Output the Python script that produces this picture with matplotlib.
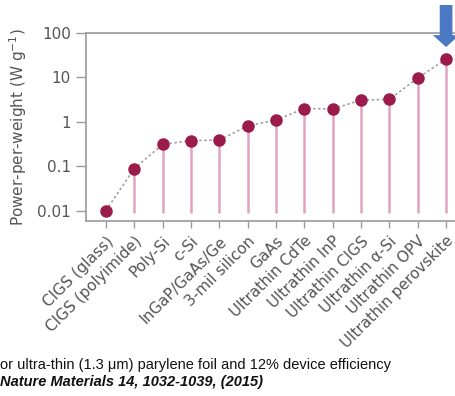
import matplotlib.pyplot as plt
import numpy as np

plt.rcParams['font.family'] = ['DejaVu Sans']
plt.rcParams['mathtext.fontset'] = 'dejavusans'

# Power-per-weight of thin-film / flexible solar cell technologies
technologies = ['CIGS (glass)', 'CIGS (polyimide)', 'Poly-Si', 'c-Si',
                'InGaP/GaAs/Ge', '3-mil silicon', 'GaAs', 'Ultrathin CdTe',
                'Ultrathin InP', 'Ultrathin CIGS', 'Ultrathin \u03b1-Si',
                'Ultrathin OPV', 'Ultrathin perovskite']
power_per_weight = [0.01, 0.089, 0.31, 0.38, 0.39, 0.81, 1.1, 2.0,
                    1.95, 3.1, 3.2, 9.7, 26]
yticks = [0.01, 0.1, 1, 10, 100]
ytick_labels = ['0.01', '0.1', '1', '10', '100']
stem_base = 0.009

caption = 'or ultra-thin (1.3 \u03bcm) parylene foil and 12% device efficiency'
source = 'Nature Materials 14, 1032-1039, (2015)'

marker_color = '#9b1b4b'
stem_color = '#e3a3c0'
axis_color = '#9a9a9a'
text_color = '#555555'

fig = plt.figure(figsize=(4.56, 3.96), dpi=100)
ax = fig.add_axes([0.1886, 0.442, 0.8114, 0.4747])

x = np.arange(len(technologies))
ax.vlines(x, stem_base, power_per_weight, color=stem_color, lw=1.8, zorder=1)
ax.plot(x, power_per_weight, ls=(0, (1.5, 1.5)), color='#a0a0a0', lw=1.2, zorder=2)
ax.plot(x, power_per_weight, 'o', color=marker_color, ms=8, zorder=3)

ax.set_yscale('log')
ax.set_ylim(0.0059, 100)
ax.set_xlim(-0.7, 12.35)
ax.set_yticks(yticks)
ax.set_yticklabels(ytick_labels)
ax.minorticks_off()
ax.set_xticks(x)
ax.set_xticklabels(technologies, rotation=45, ha='right', va='top',
                   rotation_mode='anchor')

ax.spines['right'].set_visible(False)
for side in ['left', 'bottom', 'top']:
    ax.spines[side].set_color(axis_color)
    ax.spines[side].set_linewidth(1.2)

ax.tick_params(axis='y', length=7, width=1, color=axis_color,
               labelsize=11, labelcolor=text_color, pad=4)
ax.tick_params(axis='x', length=5, width=1, color=axis_color,
               labelsize=11, labelcolor=text_color, pad=4)

ax.set_ylabel('Power-per-weight (W g$^{-1}$)', fontsize=11,
              color=text_color, labelpad=6)

# highlight arrow over the perovskite result
ax.annotate('', xy=(x[-1], power_per_weight[-1]), xytext=(0, 54),
            textcoords='offset pixels', annotation_clip=False,
            arrowprops=dict(arrowstyle='simple,head_length=0.45,head_width=1.0,tail_width=0.48',
                            mutation_scale=19, fc='#4a78c2', ec='none',
                            shrinkA=0, shrinkB=8.6))

fig.text(0.001, 0.078, caption, fontsize=10.5, va='center', color='#111111',
         family='Liberation Sans')
fig.text(0.001, 0.035, source, fontsize=10.5, va='center', color='#111111',
         family='Liberation Sans', weight='bold', style='italic')

fig.savefig('out.png', dpi=100)
